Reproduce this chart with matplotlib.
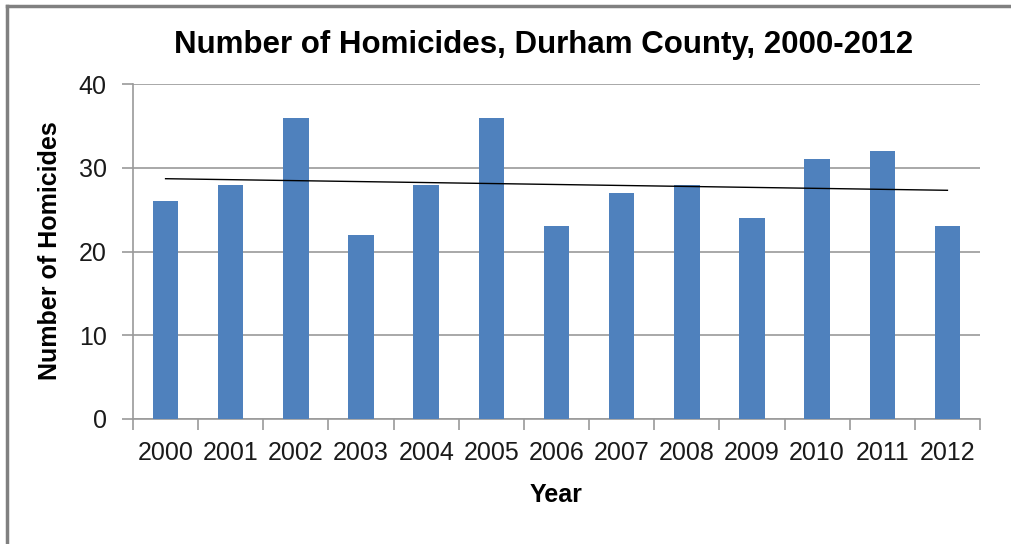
import matplotlib
matplotlib.use("Agg")
import matplotlib.pyplot as plt
from matplotlib.lines import Line2D
import numpy as np

years = ["2000", "2001", "2002", "2003", "2004", "2005", "2006",
         "2007", "2008", "2009", "2010", "2011", "2012"]
homicides = [26, 28, 36, 22, 28, 36, 23, 27, 28, 24, 31, 32, 23]
yticks = [0, 10, 20, 30, 40]

plt.rcParams['font.family'] = ['Liberation Sans', 'DejaVu Sans']

W, H = 1011, 544
fig = plt.figure(figsize=(W / 100, H / 100), dpi=100)
fig.patch.set_facecolor('white')

left, right, top, bottom = 133, 980, 84, 419
ax = fig.add_axes([left / W, 1 - bottom / H, (right - left) / W, (bottom - top) / H])

x = np.arange(len(years))
ax.bar(x, homicides, width=0.39, color='#4F81BD', zorder=3)

# linear trendline
coef = np.polyfit(x, homicides, 1)
ax.plot(x, np.polyval(coef, x), color='black', linewidth=1.0, zorder=4)

ax.set_xlim(-0.5, len(years) - 0.5)
ax.set_ylim(0, 40)
ax.set_yticks(yticks)
ax.set_yticklabels([str(t) for t in yticks], fontsize=18)
ax.set_xticks(x)
ax.set_xticklabels(years, fontsize=18)
ax.set_xticks(np.arange(-0.5, len(years)), minor=True)
ax.tick_params(axis='x', which='major', length=0, pad=16, colors='#1a1a1a')
ax.tick_params(axis='x', which='minor', length=8, width=1.2, color='#9a9a9a')
ax.tick_params(axis='y', length=8, width=1.2, color='#9a9a9a', pad=11, colors='#1a1a1a')
ax.tick_params(axis='y', color='#9a9a9a')

ax.grid(axis='y', color='#9a9a9a', linewidth=1.2, zorder=0)
for s in ['top', 'right']:
    ax.spines[s].set_visible(False)
for s in ['left', 'bottom']:
    ax.spines[s].set_color('#9a9a9a')
    ax.spines[s].set_linewidth(1.2)

fig.text(556 / W, 1 - 495 / H, 'Year', fontsize=18, fontweight='bold',
         ha='center', va='center')
fig.text(50 / W, 1 - 251 / H, 'Number of Homicides', fontsize=18, fontweight='bold',
         ha='center', va='center', rotation=90)

fig.text(544 / W, 1 - 45 / H, 'Number of Homicides, Durham County, 2000-2012',
         fontsize=22.5, fontweight='bold', ha='center', va='center')

# outer chart border
fig.add_artist(Line2D([7 / W, 7 / W], [0, 1 - 6 / H], color='#808080', linewidth=2.5,
                      transform=fig.transFigure))
fig.add_artist(Line2D([7 / W, 1.01], [1 - 6 / H, 1 - 6 / H], color='#808080', linewidth=2.5,
                      transform=fig.transFigure))

fig.savefig('out.png', dpi=100)
